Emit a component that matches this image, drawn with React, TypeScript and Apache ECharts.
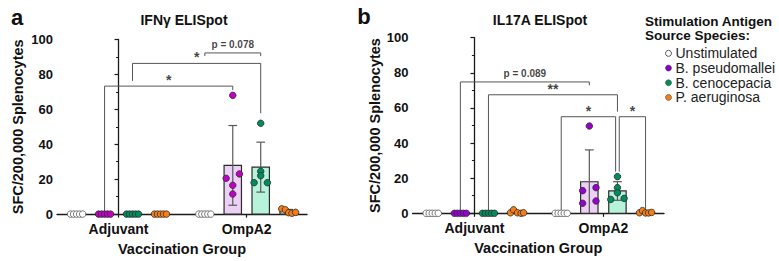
import React, { useEffect, useRef } from 'react';
import * as echarts from 'echarts';

const FONT = '"Liberation Sans", Arial, Helvetica, sans-serif';
const INK = '#111111';
const AXIS = '#1a1a1a';

const groups = ['Adjuvant', 'OmpA2'];
const species = ['Unstimulated', 'B. pseudomallei', 'B. cenocepacia', 'P. aeruginosa'];

// Spot-forming cells per 200,000 splenocytes, five mice each: [Adjuvant, OmpA2]
const ifnUnstimulated = [[0, 0, 0, 0, 0], [0, 0, 0, 0, 0]];
const ifnPseudomallei = [[0, 0, 0, 0, 0], [68, 23, 20.5, 16.5, 11.5]];
const ifnCenocepacia = [[0, 0, 0, 0, 0], [52, 24.5, 22, 18, 18]];
const ifnAeruginosa = [[0, 0, 0, 0, 0], [3, 2.5, 0.8, 0.5, 1]];

const il17Unstimulated = [[0, 0, 0, 0, 0], [0, 0, 0, 0, 0]];
const il17Pseudomallei = [[0, 0, 0, 0, 0], [49.7, 14.6, 12.9, 5.7, 7]];
const il17Cenocepacia = [[0, 0, 0, 0, 0], [20.9, 14.6, 11.7, 7.9, 8.5]];
const il17Aeruginosa = [[0.3, 2, 0.3, 0, 0.3], [0.3, 1.5, 0.2, 0.2, 0.5]];

// Horizontal spread of the dots inside each column, in dot steps
const flat = [-2, -1, 0, 1, 2];
const ifnJitter = [
  [flat, flat],
  [flat, [0, 2.2, -2.2, 0, 0]],
  [flat, [0, 0, 0, -2.2, 2.2]],
  [flat, [-2.3, -1.1, 0, 1.1, 2.3]],
];
const il17Jitter = [
  [flat, flat],
  [flat, [0, 2.2, -2.2, -2.2, 2.2]],
  [flat, [0, 0, 0, -2.2, 2.2]],
  [[-2, -1, 0.3, 1.5, 2.3], flat],
];

// Significance brackets: [group, species] ends, bar height, leg ends, label
const ifnBrackets = [
  { from: [0, 1], to: [1, 1], y: 73.3, legs: [0.8, 71], text: '*' },
  { from: [0, 2], to: [1, 2], y: 86.3, legs: [76.3, 57.7], text: '*' },
  { from: [1, 0], to: [1, 2], y: 92.3, legs: [90.5, 90.5], text: 'p = 0.078' },
];
const il17Brackets = [
  { from: [0, 1], to: [1, 1], y: 74.8, legs: [0.8, 72.9], text: 'p = 0.089' },
  { from: [0, 2], to: [1, 2], y: 67.5, legs: [0.8, 57.9], text: '**' },
  { from: [1, 0], to: [1, 2], y: 55, legs: [0.8, 23.7], text: '*', nudge: [0, -0.6] },
  { from: [1, 2], to: [1, 3], y: 55, legs: [23.7, 2], text: '*', nudge: [0.6, 0] },
];

const ifnDotColors = ['#ffffff', '#c000c4', '#008c5e', '#f57f17'];
const il17DotColors = ['#ffffff', '#9800d0', '#008c5e', '#f57f17'];
const legendColors = ['#ffffff', '#8a00c8', '#008c5e', '#f57f17'];
const barFills = ['#ffffff', '#edd0f6', '#b6f3da', '#fde3c8'];

const yTicks = [0, 20, 40, 60, 80, 100];

const slotOffset = [-0.327, -0.109, 0.109, 0.327];
const dotStep = 0.0235;
const BAR_W = 17.4;
const CAP_W = 8.7;

const xOf = (g: number, s: number) => g + slotOffset[s];
const mean = (a: number[]) => a.reduce((t, v) => t + v, 0) / a.length;
const sdev = (a: number[]) => {
  const m = mean(a);
  return Math.sqrt(a.reduce((t, v) => t + (v - m) * (v - m), 0) / (a.length - 1));
};

function renderBar(_params: any, api: any) {
  const x = api.value(0);
  const m = api.value(1);
  const e = api.value(2);
  const s = api.value(3);
  const base = api.coord([x, 0]);
  const top = api.coord([x, m]);
  const children: any[] = [];
  if (m > 0) {
    children.push({
      type: 'rect',
      shape: { x: base[0] - BAR_W / 2, y: top[1], width: BAR_W, height: base[1] - top[1] },
      style: { fill: barFills[s], stroke: '#2b2b2b', lineWidth: 1.2 },
    });
  }
  if (e > 0) {
    const hi = api.coord([x, m + e]);
    const lo = api.coord([x, Math.max(0, m - e)]);
    const st = { stroke: '#5a5a5a', lineWidth: 1.2 };
    children.push({ type: 'line', shape: { x1: hi[0], y1: hi[1], x2: lo[0], y2: lo[1] }, style: st });
    children.push({ type: 'line', shape: { x1: hi[0] - CAP_W / 2, y1: hi[1], x2: hi[0] + CAP_W / 2, y2: hi[1] }, style: st });
    if (m - e > 0) {
      children.push({ type: 'line', shape: { x1: lo[0] - CAP_W / 2, y1: lo[1], x2: lo[0] + CAP_W / 2, y2: lo[1] }, style: st });
    }
  }
  return { type: 'group', children };
}

function panelSeries(p: number, data: number[][][], jitter: number[][][], brackets: any[], dotColors: string[]) {
  const out: any[] = [];
  const barData: number[][] = [];
  data.forEach((byGroup, s) =>
    byGroup.forEach((vals, g) => barData.push([xOf(g, s), mean(vals), sdev(vals), s]))
  );
  out.push({
    type: 'custom',
    xAxisIndex: p,
    yAxisIndex: p,
    z: 2,
    silent: true,
    encode: { x: 0, y: 1 },
    data: barData,
    renderItem: renderBar,
  });
  const labelData: any[] = [];
  brackets.forEach((b) => {
    const n = b.nudge || [0, 0];
    const x1 = xOf(b.from[0], b.from[1]) + n[0] * dotStep;
    const x2 = xOf(b.to[0], b.to[1]) + n[1] * dotStep;
    out.push({
      type: 'line',
      xAxisIndex: p,
      yAxisIndex: p,
      z: 1,
      silent: true,
      symbol: 'none',
      lineStyle: { color: '#555555', width: 1 },
      data: [[x1, b.legs[0]], [x1, b.y], [x2, b.y], [x2, b.legs[1]]],
    });
    const isP = b.text.startsWith('p');
    labelData.push({
      value: [(x1 + x2) / 2, b.y],
      label: { formatter: b.text, fontSize: isP ? 10 : 14, distance: isP ? 3 : -1 },
    });
  });
  out.push({
    type: 'scatter',
    xAxisIndex: p,
    yAxisIndex: p,
    z: 1,
    silent: true,
    symbolSize: 0,
    data: labelData,
    label: { show: true, position: 'top', color: INK, fontWeight: 'bold', fontFamily: FONT },
  });
  data.forEach((byGroup, s) =>
    out.push({
      type: 'scatter',
      name: species[s],
      xAxisIndex: p,
      yAxisIndex: p,
      z: 3,
      silent: true,
      symbolSize: 6.5,
      itemStyle: {
        color: dotColors[s],
        borderColor: s === 0 ? '#555555' : '#2a2a2a',
        borderWidth: 0.8,
        opacity: 1,
      },
      data: byGroup.flatMap((vals, g) => vals.map((v, i) => [xOf(g, s) + jitter[s][g][i] * dotStep, v])),
    })
  );
  return out;
}

function xAxis(p: number) {
  return {
    type: 'value',
    gridIndex: p,
    min: -0.48,
    max: 1.47,
    splitLine: { show: false },
    axisLine: { show: true, onZero: false, lineStyle: { color: AXIS, width: 1.3 } },
    axisTick: { show: true, customValues: [0, 1], length: 3.5, lineStyle: { color: AXIS, width: 1.2 } },
    axisLabel: {
      customValues: [0, 1],
      formatter: (v: number) => groups[Math.round(v)],
      fontFamily: FONT,
      fontWeight: 'bold',
      fontSize: 14,
      color: INK,
      margin: 8,
    },
    name: 'Vaccination Group',
    nameLocation: 'middle',
    nameGap: 26,
    nameTextStyle: { fontFamily: FONT, fontWeight: 'bold', fontSize: 14.5, color: INK },
  };
}

function yAxis(p: number, gap: number) {
  return {
    type: 'value',
    gridIndex: p,
    min: yTicks[0],
    max: yTicks[yTicks.length - 1],
    interval: yTicks[1] - yTicks[0],
    splitLine: { show: false },
    axisLine: { show: true, lineStyle: { color: AXIS, width: 1.3 } },
    axisTick: { show: true, length: 4, lineStyle: { color: AXIS, width: 1.2 } },
    minorTick: { show: true, splitNumber: 2, length: 2.5, lineStyle: { color: AXIS, width: 1 } },
    axisLabel: { fontFamily: FONT, fontWeight: 'bold', fontSize: 13, color: INK, margin: 4 },
    name: 'SFC/200,000 Splenocytes',
    nameLocation: 'middle',
    nameRotate: 90,
    nameGap: gap,
    nameTextStyle: { fontFamily: FONT, fontWeight: 'bold', fontSize: 14.5, color: INK },
  };
}

function textEl(text: string, x: number, y: number, font: string, align = 'center') {
  return {
    type: 'text',
    x,
    y,
    silent: true,
    style: { text, font, fill: INK, align, verticalAlign: 'middle' },
  };
}

export default function App() {
  const ref = useRef<HTMLDivElement>(null);

  useEffect(() => {
    document.body.style.margin = '0';
    if (!ref.current) return;
    const chart = echarts.init(ref.current, undefined, { renderer: 'svg' });
    const ifnData = [ifnUnstimulated, ifnPseudomallei, ifnCenocepacia, ifnAeruginosa];
    const il17Data = [il17Unstimulated, il17Pseudomallei, il17Cenocepacia, il17Aeruginosa];

    chart.setOption({
      animation: false,
      backgroundColor: '#ffffff',
      grid: [
        { left: 57, top: 39.5, width: 250, height: 174.8 },
        { left: 412.5, top: 37.7, width: 251.5, height: 175.6 },
      ],
      xAxis: [xAxis(0), xAxis(1)],
      yAxis: [yAxis(0, 31.5), yAxis(1, 29)],
      legend: {
        orient: 'vertical',
        left: 660,
        top: 41,
        icon: 'circle',
        itemWidth: 6,
        itemHeight: 6,
        itemGap: 0,
        selectedMode: false,
        textStyle: {
          fontFamily: FONT,
          fontSize: 14,
          color: '#222222',
          lineHeight: 14.7,
          padding: [0, 0, 0, -1],
        },
        data: species.map((name, s) => ({
          name,
          itemStyle: {
            color: legendColors[s],
            borderColor: s === 0 ? '#555555' : '#333333',
            borderWidth: s === 0 ? 1 : 0.5,
          },
        })),
      },
      graphic: [
        textEl('a', 17, 17, `bold 22px ${FONT}`),
        textEl('b', 364, 16, `bold 22px ${FONT}`),
        textEl('IFN\u03b3 ELISpot', 184, 20, `bold 14px ${FONT}`),
        textEl('IL17A ELISpot', 540, 20, `bold 14px ${FONT}`),
        textEl('Stimulation Antigen', 645, 21.5, `bold 13.5px ${FONT}`, 'left'),
        textEl('Source Species:', 645, 35.5, `bold 13.5px ${FONT}`, 'left'),
      ],
      series: [
        ...panelSeries(0, ifnData, ifnJitter, ifnBrackets, ifnDotColors),
        ...panelSeries(1, il17Data, il17Jitter, il17Brackets, il17DotColors),
      ],
    });

    return () => chart.dispose();
  }, []);

  return <div ref={ref} style={{ width: 779, height: 261 }} />;
}
